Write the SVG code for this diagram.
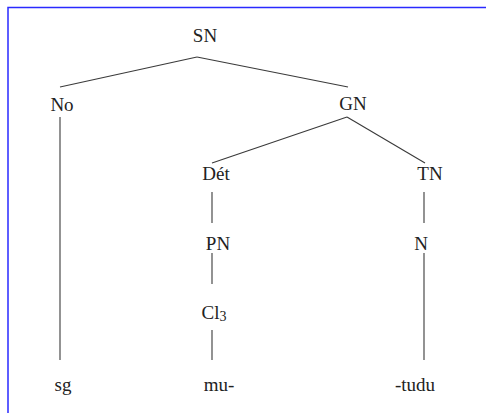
<svg xmlns="http://www.w3.org/2000/svg" width="486" height="413" viewBox="0 0 486 413">
<style>
.t{font-family:"Liberation Serif","Times New Roman",serif;font-size:19px;fill:#222;text-anchor:middle}
.c line{stroke:#3a3a3a;stroke-width:1.1;fill:none}
.frame{stroke:#2a2aff;stroke-width:1.5;fill:none}
</style>
<rect width="486" height="413" fill="#fff"/>
<path class="frame" d="M8 413 V7.5 H486"/>
<g class="c" id="connectors">
<line x1="197" y1="57" x2="60" y2="87"/>
<line x1="197" y1="57" x2="348" y2="87"/>
<line x1="347" y1="117" x2="212" y2="163"/>
<line x1="347" y1="117" x2="425" y2="163"/>
<line x1="60" y1="117" x2="60" y2="360"/>
<line x1="212" y1="192" x2="212" y2="223"/>
<line x1="424" y1="192" x2="424" y2="223"/>
<line x1="212" y1="253" x2="212" y2="284"/>
<line x1="212" y1="330" x2="212" y2="360"/>
<line x1="424" y1="253" x2="424" y2="360"/>
</g>
<g id="n-SN"><text class="t" x="205" y="42">SN</text></g>
<g id="n-No"><text class="t" x="62" y="111">No</text></g>
<g id="n-GN"><text class="t" x="353" y="110">GN</text></g>
<g id="n-Det"><text class="t" x="216" y="180">Dét</text></g>
<g id="n-TN"><text class="t" x="430" y="180">TN</text></g>
<g id="n-PN"><text class="t" x="218" y="250">PN</text></g>
<g id="n-N"><text class="t" x="421" y="250">N</text></g>
<g id="n-Cl3"><text class="t" x="214" y="319">Cl<tspan font-size="14" dy="2">3</tspan></text></g>
<g id="n-sg"><text class="t" x="63" y="391">sg</text></g>
<g id="n-mu"><text class="t" x="219" y="391">mu-</text></g>
<g id="n-tudu"><text class="t" x="415" y="391">-tudu</text></g>
</svg>
